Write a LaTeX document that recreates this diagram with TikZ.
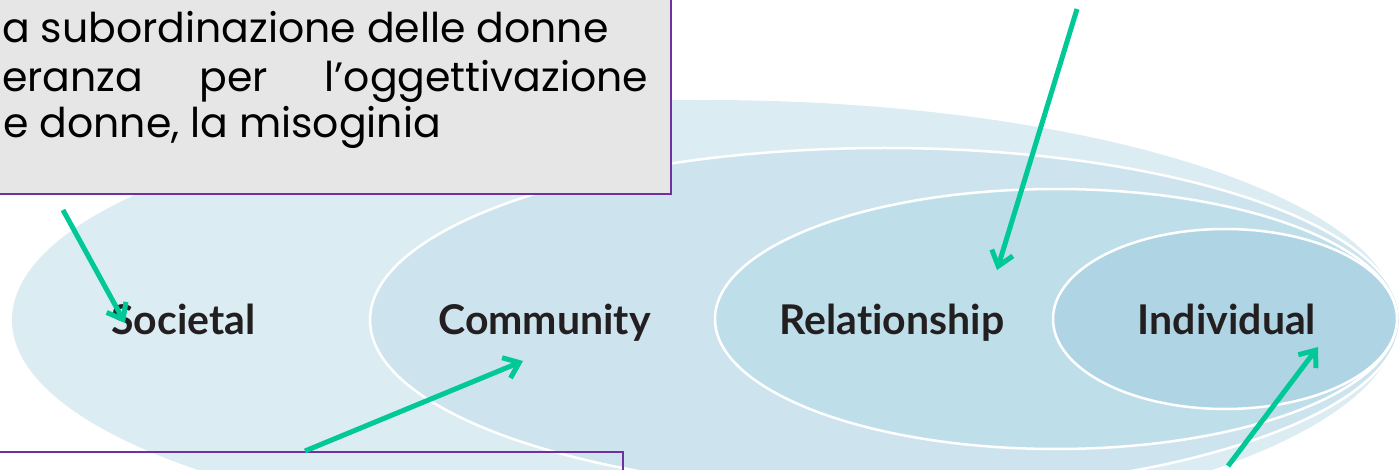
\documentclass[tikz,border=0pt]{standalone}
\usepackage{fontspec}
\newfontfamily\labfont[Ligatures=NoCommon]{Lato}
\newfontfamily\boxfont{Poppins}
\usetikzlibrary{arrows.meta}
\definecolor{ellA}{HTML}{DCECF3}
\definecolor{ellB}{HTML}{CDE4EE}
\definecolor{ellC}{HTML}{BEDEEA}
\definecolor{ellD}{HTML}{AFD5E5}
\definecolor{labtxt}{HTML}{231F20}
\definecolor{arrgreen}{RGB}{0,200,150}
\definecolor{boxpurple}{HTML}{7030A0}
\definecolor{boxgray}{HTML}{E6E6E6}
\begin{document}
\begin{tikzpicture}[x=1pt,y=-1pt,
  ring/.style={draw=white,line width=2.5pt},
  lab/.style={font=\labfont\bfseries\fontsize{41}{41}\selectfont, text=labtxt, anchor=base, inner sep=0pt},
  boxline/.style={font=\boxfont\fontsize{41}{41}\selectfont, anchor=base west, inner sep=0pt, text=black},
  framebox/.style={draw=boxpurple, line width=2pt},
  pointer/.style={draw=arrgreen, line width=5pt, -{Straight Barb[length=14pt,width=22pt]},
    preaction={draw=black, draw opacity=.15, transform canvas={shift={(1.5pt,-1.5pt)}}}}]
\useasboundingbox (0,0) rectangle (1399,470);
\clip (0,0) rectangle (1399,470);
% nested ellipses
\fill[ellA] (705,320) ellipse [x radius=693pt, y radius=220pt];
\path[fill=ellB, ring] (885,320) ellipse [x radius=515pt, y radius=172pt];
\path[fill=ellC, ring] (1056,319) ellipse [x radius=341pt, y radius=130pt];
\path[fill=ellD, ring] (1225,319) ellipse [x radius=172pt, y radius=90pt];
% labels
\node[lab] (soc) at (183.5,334) {Societal};
\node[lab] (com) at (544.5,334) {Community};
\node[lab] (rel) at (892,334) {Relationship};
\node[lab] (ind) at (1227,334) {Individual};
% top text box
\path[fill=boxgray, framebox] (-20,-20) rectangle (671,194);
\node[boxline] (t1) at (2,43) {a subordinazione delle donne};
\node[boxline] (t2) at (2,92) {\makebox[646pt][s]{eranza per l’oggettivazione}};
\node[boxline] (t3) at (3,138) {e donne, la misoginia};
% bottom text box
\path[framebox] (-20,452) rectangle (623,530);
% arrows
\coordinate (a1s) at (63,210);   \coordinate (a1e) at (125,323);
\coordinate (a2s) at (305,451);  \coordinate (a2e) at (523,361);
\coordinate (a3s) at (1077,9);   \coordinate (a3e) at (997,270);
\coordinate (a4s) at (1228,466); \coordinate (a4e) at (1318,347);
\draw[pointer] (a1s) -- (a1e);
\draw[pointer] (a2s) -- (a2e);
\draw[pointer] (a3s) -- (a3e);
\draw[pointer] (a4s) -- (a4e);
\end{tikzpicture}
\end{document}
